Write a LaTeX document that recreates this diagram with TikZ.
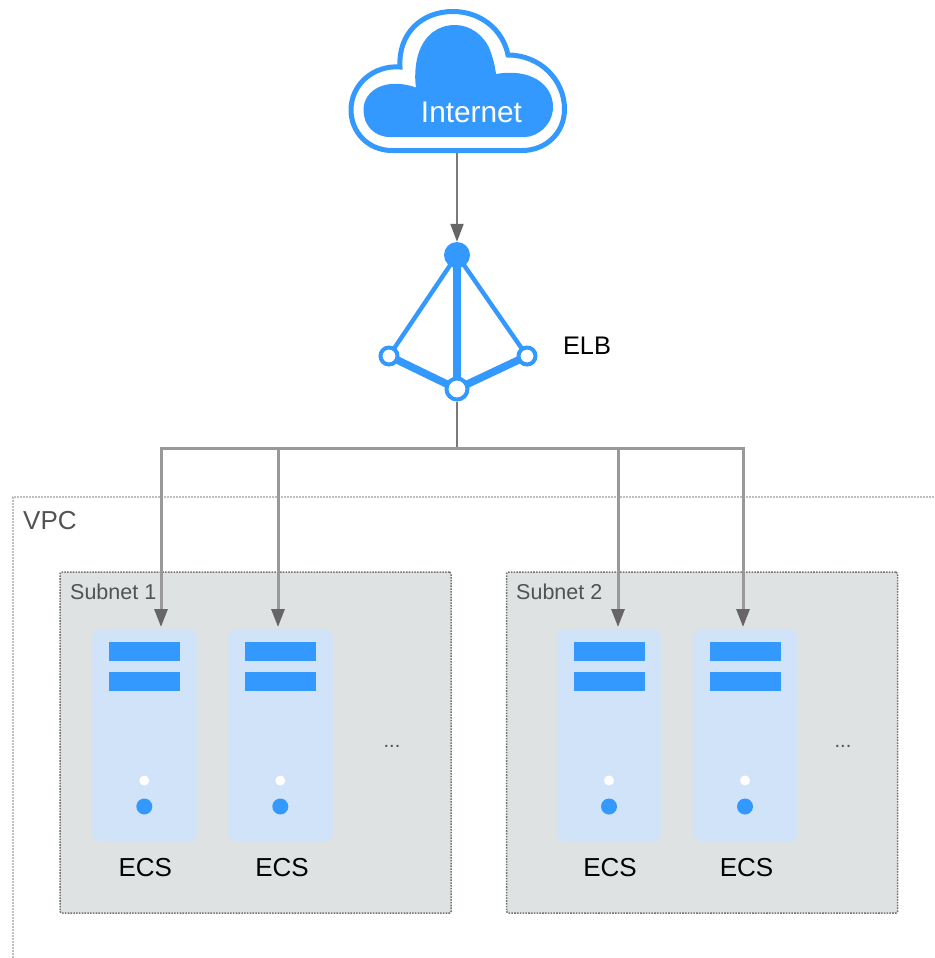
\documentclass[tikz,border=0pt]{standalone}
\usepackage{fontspec}
\setmainfont{Liberation Sans}
\usetikzlibrary{arrows.meta, calc}
\definecolor{elbblue}{HTML}{3399FF}
\definecolor{srvblue}{HTML}{D1E3F9}
\definecolor{netgray}{HTML}{DFE2E3}
\tikzset{>={Triangle[width=13pt,length=18pt,color=black!60]}}
\tikzset{link/.style = {draw=black!40, line width=3pt}}
\tikzset{net-box/.style = {draw=black!55, fill=netgray, dash pattern=on 1.6pt off 1.2pt, line width=1.5pt, rounded corners=1.5pt, rectangle, minimum width=391pt, minimum height=341pt}}
\tikzset{srv-box/.style = {fill=srvblue, rounded corners=9pt, minimum width=105pt, minimum height=213pt}}
\tikzset{srv-bar/.style = {fill=elbblue, minimum width=71pt, minimum height=19pt}}
\tikzset{dot-w/.style = {fill=white, circle, minimum size=10pt, inner sep=0}}
\tikzset{dot-b/.style = {fill=elbblue, circle, minimum size=16pt, inner sep=0}}
\tikzset{elb-r/.style = {draw=elbblue, fill=white, circle, line width=4pt, inner sep=0}}
\tikzset{lbl/.style = {anchor=base, inner sep=0, font=\fontsize{26}{26}\selectfont}}
\tikzset{lbl-g/.style = {lbl, text=black!68}}
\begin{document}
\begin{tikzpicture}[x=1pt, y=-1pt]
  \useasboundingbox (0,0) rectangle (934,958);
  % vpc border
  \draw[draw=black!25, dash pattern=on 1.6pt off 1.4pt, line width=1.3pt] (934,497) -- (13,497) -- (13,958);
  \node[lbl-g, anchor=base west] (vpc) at (23,529) {VPC};

  \node[net-box] (net1) at (255.5,742.5) {};
  \node[net-box] (net2) at (702,742.5) {};
  \node[lbl-g, anchor=base west, font=\fontsize{21.5}{22}\selectfont] (net1t) at (70,599) {Subnet 1};
  \node[lbl-g, anchor=base west, font=\fontsize{21.5}{22}\selectfont] (net2t) at (516,599) {Subnet 2};
  \node[lbl-g, font=\fontsize{20}{20}\selectfont] (net1d) at (392,747) {...};
  \node[lbl-g, font=\fontsize{20}{20}\selectfont] (net2d) at (843,747) {...};

  % servers
  \foreach \n/\x/\t in {1/144.8/145.3, 2/280.8/282, 3/609.5/610, 4/745.5/746.5}
  {
    \path (\x,735.5) node[srv-box] (ecs\n) {}
        ++(0,-84) node[srv-bar] (ecs\n a) {}
        ++(0,30) node[srv-bar] (ecs\n b) {}
        ++(-0.5,99) node[dot-w] (ecs\n w) {}
        ++(0,26) node[dot-b] (ecs\n c) {};
    \node[lbl] (ecs\n t) at (\t,876) {ECS};
  }

  % cloud
  \draw[draw=elbblue, line width=5pt, fill=white] (392,150.5)
    .. controls (368,150.5) and (351,132) .. (351,110)
    .. controls (351,84) and (374,65) .. (400,67)
    .. controls (398,34) and (421,11.5) .. (453,11.5)
    .. controls (481,11.5) and (503,30) .. (508,55)
    .. controls (540,55) and (564.5,80) .. (564.5,109)
    .. controls (564.5,133) and (546,150.5) .. (522,150.5) -- cycle;
  \fill[elbblue] (390,137)
    .. controls (374,137) and (363.5,125) .. (363.5,110)
    .. controls (363.5,90) and (386,77) .. (416,87.5)
    .. controls (414,75) and (416,60) .. (419,52)
    .. controls (425,35) and (438,25) .. (455,25)
    .. controls (470,25) and (484,35) .. (490,50)
    .. controls (493,58) and (495,66) .. (496,74)
    .. controls (530,68) and (553,84) .. (553,107)
    .. controls (553,125) and (537,137) .. (525,137) -- cycle;
  \node[lbl, text=white, font=\fontsize{29.8}{30}\selectfont] (inet) at (471.5,122) {Internet};
  \coordinate (inetb) at (457,153);

  % elb
  \coordinate (elbt) at (457,255);
  \coordinate (elbl) at (389,356);
  \coordinate (elbr) at (527,356);
  \coordinate (elbb) at (457,389);
  \foreach \i/\o in {elbt/elbl, elbt/elbr}
  {
    \draw[draw=elbblue, line width=4.4pt] (\i) -- (\o);
  }
  \foreach \i/\o in {elbt/elbb, elbl/elbb, elbr/elbb}
  {
    \draw[draw=elbblue, line width=7.6pt] (\i) -- (\o);
  }
  \node[fill=elbblue, circle, minimum size=26pt, inner sep=0] (elbtn) at (elbt) {};
  \node[elb-r, minimum size=17pt] (elbln) at (elbl) {};
  \node[elb-r, minimum size=17pt] (elbrn) at (elbr) {};
  \node[elb-r, minimum size=21pt] (elbbn) at (elbb) {};
  \node[lbl, font=\fontsize{25.4}{26}\selectfont] (elb) at (587,354) {ELB};

  % connectors
  \coordinate (bus) at (457,448);
  \draw[->, draw=black!52, line width=2pt] (inetb) -- (elbtn.north);
  \draw[draw=black!52, line width=2pt] (elbbn.south) -- (bus);
  \coordinate (in1) at (161,627);
  \coordinate (in2) at (278,627);
  \coordinate (in3) at (618,627);
  \coordinate (in4) at (743,627);
  \foreach \o in {in1, in2, in3, in4}
  {
    \draw[link, ->] (bus) -| (\o);
  }
\end{tikzpicture}
\end{document}
